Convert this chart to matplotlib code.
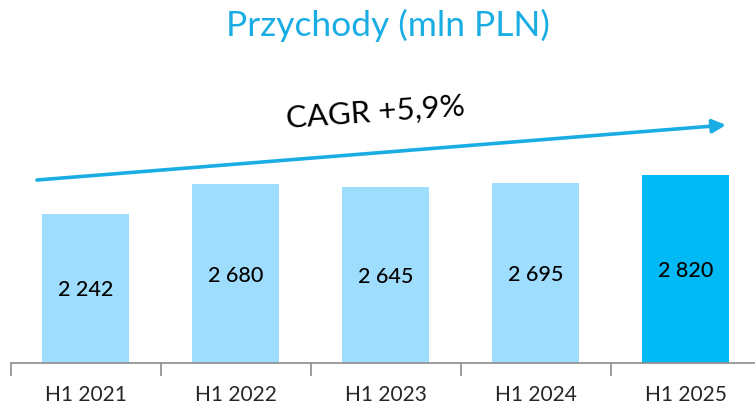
import matplotlib
matplotlib.use("Agg")
import matplotlib.pyplot as plt

categories = ["H1 2021", "H1 2022", "H1 2023", "H1 2024", "H1 2025"]
values = [2242, 2680, 2645, 2695, 2820]
value_labels = ["2 242", "2 680", "2 645", "2 695", "2 820"]
colors = ["#9EDDFD", "#9EDDFD", "#9EDDFD", "#9EDDFD", "#00B9F5"]

plt.rcParams['font.family'] = ['Lato', 'DejaVu Sans']

W, H = 755, 404
fig = plt.figure(figsize=(W / 100, H / 100), dpi=100)

# axes: baseline at y=363 px, categories 150 px wide starting at x=10.6
base_y = 363
ax_left = 10.6
ax_w = 750
ax_top = 60
ax = fig.add_axes([ax_left / W, (H - base_y) / H, ax_w / W, (base_y - ax_top) / H])
ax.set_ylim(0, (base_y - ax_top) * 15.0)
ax.set_xlim(-0.5, len(categories) - 0.5)

x = list(range(len(categories)))
bars = ax.bar(x, values, width=0.58, color=colors, zorder=2)
for xi, v, lab in zip(x, values, value_labels):
    ax.text(xi, v / 2 - 30, lab, ha='center', va='center', fontsize=15.5,
            color='black', fontweight='medium', zorder=3)

for s in ['top', 'right', 'left']:
    ax.spines[s].set_visible(False)
ax.spines['bottom'].set_color('#8C8C8C')
ax.spines['bottom'].set_linewidth(1.2)
ax.set_yticks([])
ax.set_xticks([i - 0.5 for i in range(len(categories) + 1)], minor=False)
ax.set_xticklabels([])
ax.tick_params(axis='x', length=9, color='#8C8C8C', width=1.2, direction='out')
for xi, c in zip(x, categories):
    ax.text(xi, -(395 - base_y) / (base_y - ax_top), c, transform=ax.get_xaxis_transform(),
            ha='center', va='center', fontsize=15, color='#262626')

# title
fig.text(388 / W, 1 - 25 / H, "Przychody (mln PLN)", ha='center', va='center',
         fontsize=25.5, color='#1AADE4')

# CAGR arrow (figure pixel coords)
ax.annotate("", xy=(726 / W, 1 - 125 / H), xytext=(37 / W, 1 - 180 / H),
            xycoords='figure fraction', textcoords='figure fraction',
            arrowprops=dict(arrowstyle='-|>,head_length=0.8,head_width=0.4',
                            color='#1AADE4', lw=2.6, shrinkA=0, shrinkB=0))
fig.text(375 / W, 1 - 113 / H, "CAGR +5,9%", ha='center', va='center',
         fontsize=22.5, color='black', rotation=4)

fig.savefig("out.png", dpi=100)
